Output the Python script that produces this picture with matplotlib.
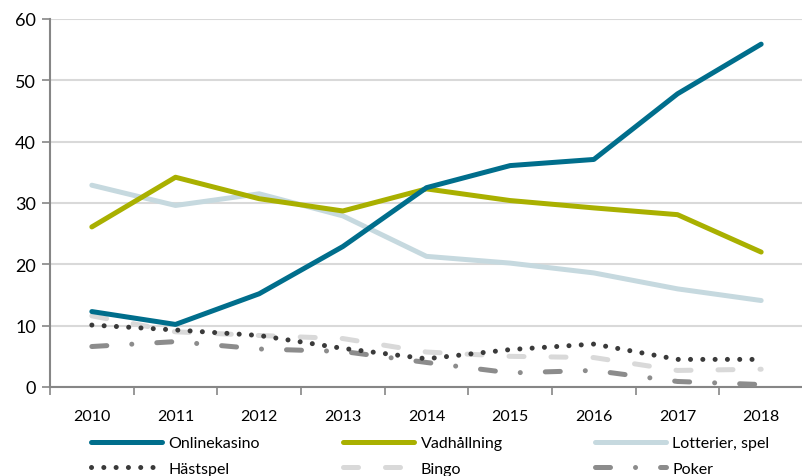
import matplotlib
matplotlib.use("Agg")
import matplotlib.pyplot as plt
from matplotlib.lines import Line2D

years = [2010, 2011, 2012, 2013, 2014, 2015, 2016, 2017, 2018]
onlinekasino = [12.3, 10.2, 15.2, 22.9, 32.5, 36.1, 37.1, 47.8, 55.9]
vadhallning = [26.1, 34.2, 30.7, 28.7, 32.3, 30.4, 29.2, 28.1, 22.0]
lotterier = [32.9, 29.6, 31.5, 27.9, 21.3, 20.2, 18.6, 16.0, 14.1]
hastspel = [10.1, 9.3, 8.4, 6.3, 4.6, 6.1, 7.0, 4.5, 4.5]
bingo = [11.6, 9.0, 8.4, 7.9, 5.7, 5.0, 4.8, 2.7, 2.9]
poker = [6.6, 7.4, 6.2, 5.8, 4.0, 2.3, 2.7, 0.9, 0.4]

plt.rcParams['font.family'] = ['Lato', 'DejaVu Sans']

W, H = 803, 477
fig = plt.figure(figsize=(W / 100, H / 100), dpi=100)
ax = fig.add_axes([50 / W, 1 - 388 / H, (W - 50) / W, (388 - 20) / H])

lw = 3.6
series = [
    ("Onlinekasino", onlinekasino, dict(color="#006E8C", linestyle="-")),
    ("Vadhållning", vadhallning, dict(color="#A9B000", linestyle="-")),
    ("Lotterier, spel", lotterier, dict(color="#C6D9DF", linestyle="-")),
    ("Hästspel", hastspel, dict(color="#3A3A3A", linestyle=(0, (0.01, 2.45)))),
    ("Bingo", bingo, dict(color="#D9D9D9", linestyle=(0, (3, 5.4)))),
    ("Poker", poker, dict(color="#8C8C8C", linestyle=(0, (3, 5, 0.01, 5)))),
]
styles = {name: st for name, vals, st in series}

handles = {}
for name, vals, st in reversed(series):
    ln, = ax.plot(years, vals, lw=lw, solid_capstyle="round", dash_capstyle="round",
                  solid_joinstyle="round", label=name, zorder=3, **st)
    handles[name] = ln

ax.set_ylim(0, 60)
ax.set_xlim(2009.5, 2009.5 + (W - 50) / 84.5)
ax.set_yticks(range(0, 61, 10))
ax.yaxis.grid(True, color="#D9D9D9", lw=1.5)
ax.set_axisbelow(True)
ax.set_xticks(years)
ax.set_xticks([y - 0.5 for y in years] + [2018.5], minor=True)
ax.tick_params(axis="x", which="major", length=0, pad=16, labelsize=11.5, colors="#000000")
ax.tick_params(axis="x", which="minor", length=6, width=1.2, color="#868686", direction="out")
ax.tick_params(axis="y", length=6, width=1.2, color="#868686", pad=4, labelsize=13)
for s in ["top", "right"]:
    ax.spines[s].set_visible(False)
for s in ["left", "bottom"]:
    ax.spines[s].set_color("#868686")
    ax.spines[s].set_linewidth(1.5)

cols = [("Onlinekasino", "Hästspel", 91), ("Vadhållning", "Bingo", 343), ("Lotterier, spel", "Poker", 595)]
for a, b, x in cols:
    hs = []
    for n in (a, b):
        st = styles[n]
        hs.append(Line2D([], [], color=st["color"], lw=lw, linestyle=st["linestyle"],
                         solid_capstyle="round", dash_capstyle="round"))
    fig.legend(hs, [a, b], loc="upper left", bbox_to_anchor=(x / W, 1 - 437 / H),
               frameon=False, fontsize=11.5, handlelength=4.45, handletextpad=0.4,
               labelspacing=0.72, borderpad=0, borderaxespad=0)

fig.savefig("out.png", dpi=100)
